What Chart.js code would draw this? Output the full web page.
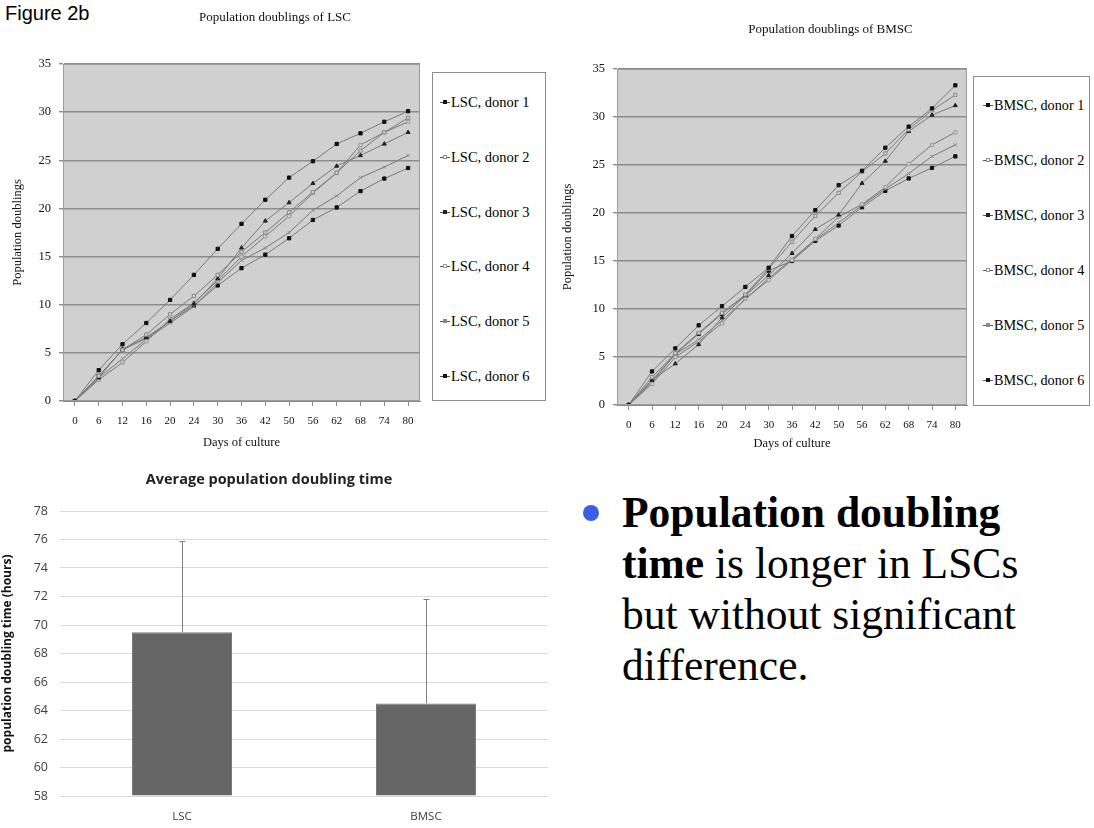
<!DOCTYPE html>
<html>
<head>
<meta charset="utf-8">
<script src="https://cdn.jsdelivr.net/npm/chart.js@4.4.1/dist/chart.umd.min.js"></script>
<style>
  html, body { margin: 0; padding: 0; background: #fff; }
  #page { position: relative; width: 1094px; height: 828px; overflow: hidden; background: #fff; }
  .abs { position: absolute; }
  canvas { display: block; }
  #figLabel { left: 5px; top: 2px; font: 20px "Liberation Sans", Arial, sans-serif; color: #000; }
  .legend { position: absolute; border: 1px solid #8c8c8c; background: #fff; box-sizing: border-box;
            font: 14.5px "Liberation Serif", "Times New Roman", serif; color: #000; }
  .legend .item { position: absolute; white-space: nowrap; line-height: 16px; height: 16px; }
  .legend .mk { display: inline-block; position: relative; width: 10px; height: 16px; vertical-align: top; margin-right: 1px; }
  .legend .mk::before { content: ""; position: absolute; left: 0; top: 8px; width: 10px; height: 1px; background: #555; }
  .legend .mk i { position: absolute; left: 3px; top: 6px; width: 4px; height: 4px; }
  #bmscLegend { font-size: 14.2px; }
  #bullet { left: 583px; top: 505px; width: 16px; height: 16px; border-radius: 50%; background: #3a5fe6; }
  #note { left: 622px; top: 487px; font: 43.5px "Liberation Serif", "Times New Roman", serif; line-height: 51px; color: #000; white-space: nowrap; }
</style>
</head>
<body>
<div id="page">
  <div id="figLabel" class="abs">Figure 2b</div>

  <div class="abs" style="left:0px;top:0px;"><canvas id="lsc" width="550" height="460"></canvas></div>
  <div id="lscLegend" class="legend" style="left:432px;top:72px;width:114px;height:329px;"></div>

  <div class="abs" style="left:557px;top:0px;"><canvas id="bmsc" width="547" height="462"></canvas></div>
  <div id="bmscLegend" class="legend" style="left:973px;top:76px;width:117px;height:330px;"></div>

  <div class="abs" style="left:-10px;top:460px;"><canvas id="pdt" width="560" height="368"></canvas></div>

  <div id="bullet" class="abs"></div>
  <div id="note" class="abs"><b>Population doubling</b><br><b>time</b> is longer in LSCs<br>but without significant<br>difference.</div>
</div>

<script>
// Days of culture at which cumulative population doublings were counted
const days = ['0', '6', '12', '16', '20', '24', '30', '36', '42', '50', '56', '62', '68', '74', '80'];
const doublingTicks = [0, 5, 10, 15, 20, 25, 30, 35];

// Limbal stem cells (LSC), cumulative population doublings per donor
const lscNames = ['LSC, donor 1', 'LSC, donor 2', 'LSC, donor 3', 'LSC, donor 4', 'LSC, donor 5', 'LSC, donor 6'];
const lscDonor1 = [0, 3.2, 5.9, 8.1, 10.5, 13.1, 15.8, 18.4, 20.9, 23.2, 24.9, 26.7, 27.8, 29.0, 30.1];
const lscDonor2 = [0, 2.6, 5.3, 6.9, 9.0, 10.9, 13.1, 15.5, 17.5, 19.6, 21.7, 23.7, 26.0, 27.9, 29.4];
const lscDonor3 = [0, 2.4, 5.4, 6.6, 8.3, 10.1, 12.7, 15.9, 18.7, 20.6, 22.6, 24.4, 25.5, 26.7, 27.9];
const lscDonor4 = [0, 2.2, 4.0, 6.2, 8.5, 10.2, 12.5, 15.0, 17.1, 19.2, 21.6, 23.7, 26.6, 27.9, 29.0];
const lscDonor5 = [0, 2.4, 4.4, 6.4, 8.1, 9.8, 12.3, 14.6, 15.9, 17.5, 19.8, 21.3, 23.2, 24.3, 25.5];
const lscDonor6 = [0, 2.6, 5.3, 6.5, 8.3, 9.9, 12.0, 13.8, 15.2, 16.9, 18.8, 20.1, 21.8, 23.1, 24.2];

// Bone marrow stromal cells (BMSC), cumulative population doublings per donor
const bmscNames = ['BMSC, donor 1', 'BMSC, donor 2', 'BMSC, donor 3', 'BMSC, donor 4', 'BMSC, donor 5', 'BMSC, donor 6'];
const bmscDonor1 = [0, 3.5, 5.9, 8.3, 10.3, 12.3, 14.3, 17.6, 20.3, 22.9, 24.4, 26.8, 29.0, 30.9, 33.3];
const bmscDonor2 = [0, 2.9, 5.4, 7.5, 9.6, 11.5, 14.2, 17.0, 19.7, 22.1, 24.3, 26.2, 28.7, 30.7, 32.3];
const bmscDonor3 = [0, 2.6, 4.3, 6.3, 9.1, 11.4, 13.5, 15.8, 18.3, 19.8, 23.1, 25.4, 28.5, 30.2, 31.2];
const bmscDonor4 = [0, 2.2, 5.0, 6.6, 8.5, 11.1, 13.0, 15.1, 17.3, 19.6, 20.9, 22.7, 25.1, 27.1, 28.4];
const bmscDonor5 = [0, 2.4, 5.3, 6.8, 8.8, 11.0, 13.2, 15.2, 17.2, 19.0, 20.8, 22.5, 24.1, 25.9, 27.1];
const bmscDonor6 = [0, 2.6, 5.3, 7.4, 9.5, 11.4, 14.0, 15.0, 17.1, 18.7, 20.6, 22.3, 23.6, 24.7, 25.9];

// Average population doubling time (hours) with standard deviation
const cellTypes = ['LSC', 'BMSC'];
const meanDoublingTime = [69.5, 64.5];
const sdDoublingTime = [6.4, 7.3];
const hourTicks = [58, 60, 62, 64, 66, 68, 70, 72, 74, 76, 78];

// Marker look for the six donor lines
const markerStyles = [
  { style: 'rect', color: '#111' },
  { style: 'rect', color: '#8a8a8a', hollow: true },
  { style: 'triangle', color: '#222' },
  { style: 'rect', color: '#9a9a9a', hollow: true },
  { style: 'crossRot', color: '#8a8a8a' },
  { style: 'rect', color: '#111' }
];

const serif = '"Liberation Serif", "Times New Roman", serif';
const sans = '"Open Sans", Lato, sans-serif';

// Grey plot area with a thin frame, as in classic spreadsheet charts
const plotFrame = {
  id: 'plotFrame',
  beforeDraw(chart, args, opts) {
    if (!opts.fill) return;
    const { ctx, chartArea: a } = chart;
    ctx.save();
    ctx.fillStyle = opts.fill;
    ctx.fillRect(a.left, a.top, a.right - a.left, a.bottom - a.top);
    ctx.restore();
  },
  afterDraw(chart, args, opts) {
    if (!opts.stroke) return;
    const { ctx, chartArea: a } = chart;
    ctx.save();
    ctx.strokeStyle = opts.stroke;
    ctx.lineWidth = 1;
    ctx.strokeRect(Math.round(a.left) + 0.5, Math.round(a.top) + 0.5,
                   Math.round(a.right - a.left) - 1, Math.round(a.bottom - a.top) - 1);
    ctx.restore();
  }
};

// Upper standard-deviation whiskers on the bars
const errorBars = {
  id: 'errorBars',
  afterDatasetsDraw(chart, args, opts) {
    if (!opts.errors) return;
    const { ctx } = chart;
    const y = chart.scales.y;
    const meta = chart.getDatasetMeta(0);
    const values = chart.data.datasets[0].data;
    ctx.save();
    ctx.strokeStyle = opts.color || '#7f7f7f';
    ctx.lineWidth = 1;
    meta.data.forEach((bar, i) => {
      const x = Math.round(bar.x) + 0.5;
      const y0 = y.getPixelForValue(values[i]);
      const y1 = Math.round(y.getPixelForValue(values[i] + opts.errors[i])) + 0.5;
      ctx.beginPath();
      ctx.moveTo(x, y0);
      ctx.lineTo(x, y1);
      ctx.moveTo(x - 3, y1);
      ctx.lineTo(x + 3, y1);
      ctx.stroke();
    });
    ctx.restore();
  }
};

function donorDatasets(names, series) {
  return series.map((data, i) => {
    const m = markerStyles[i];
    return {
      label: names[i],
      data: data,
      borderColor: '#7a7a7a',
      borderWidth: 1,
      pointStyle: m.style,
      pointRadius: 2.3,
      pointBorderWidth: 1,
      pointBorderColor: m.color,
      pointBackgroundColor: m.hollow ? '#d0d0d0' : m.color,
      tension: 0,
      fill: false
    };
  });
}

function growthOptions(cfg) {
  return {
    responsive: false,
    animation: false,
    devicePixelRatio: 1,
    layout: { padding: 0 },
    plugins: {
      legend: { display: false },
      tooltip: { enabled: false },
      title: {
        display: true,
        text: cfg.title,
        color: '#111',
        font: { family: serif, size: 13, weight: 'normal', lineHeight: 1.2 },
        padding: { top: cfg.titleTop, bottom: cfg.titleBottom }
      },
      plotFrame: { fill: '#d0d0d0', stroke: '#9c9c9c' }
    },
    scales: {
      x: {
        type: 'category',
        offset: true,
        grid: { drawOnChartArea: false, drawTicks: true, tickLength: 5, color: '#8a8a8a' },
        border: { display: true, color: '#8a8a8a' },
        ticks: { color: '#111', font: { family: serif, size: 11 }, padding: 9, maxRotation: 0, autoSkip: false },
        title: { display: true, text: 'Days of culture', color: '#111',
                 font: { family: serif, size: 12.5 }, padding: { top: 0, bottom: cfg.xTitleBottom } },
        afterFit(scale) { scale.height = cfg.xHeight; }
      },
      y: {
        min: 0,
        max: 35,
        afterBuildTicks(scale) { scale.ticks = doublingTicks.map(v => ({ value: v })); },
        grid: { color: '#8c8c8c', lineWidth: 1.4, drawTicks: true, tickLength: 4 },
        border: { display: true, color: '#8c8c8c' },
        ticks: { color: '#111', font: { family: serif, size: 12.5 }, padding: 8 },
        title: { display: true, text: 'Population doublings', color: '#111',
                 font: { family: serif, size: 12.5 }, padding: { top: cfg.yTitleTop, bottom: 0 } },
        afterFit(scale) { scale.width = cfg.yWidth; }
      },
      // empty right-hand band that keeps room for the donor legend
      legendBand: {
        type: 'linear',
        position: 'right',
        display: true,
        grid: { display: false },
        border: { display: false },
        ticks: { display: false },
        afterFit(scale) { scale.width = cfg.legendBand; }
      }
    }
  };
}

new Chart(document.getElementById('lsc'), {
  type: 'line',
  data: {
    labels: days,
    datasets: donorDatasets(lscNames, [lscDonor1, lscDonor2, lscDonor3, lscDonor4, lscDonor5, lscDonor6])
  },
  options: growthOptions({
    title: 'Population doublings of LSC',
    legendBand: 130, titleTop: 10, titleBottom: 38.4,
    xHeight: 59, xTitleBottom: 9.5, yWidth: 63, yTitleTop: 10
  }),
  plugins: [plotFrame]
});

new Chart(document.getElementById('bmsc'), {
  type: 'line',
  data: {
    labels: days,
    datasets: donorDatasets(bmscNames, [bmscDonor1, bmscDonor2, bmscDonor3, bmscDonor4, bmscDonor5, bmscDonor6])
  },
  options: growthOptions({
    title: 'Population doublings of BMSC',
    legendBand: 137, titleTop: 21.6, titleBottom: 31.8,
    xHeight: 57, xTitleBottom: 10.5, yWidth: 60, yTitleTop: 3
  }),
  plugins: [plotFrame]
});

new Chart(document.getElementById('pdt'), {
  type: 'bar',
  data: {
    labels: cellTypes,
    datasets: [{
      data: meanDoublingTime,
      base: 58,
      backgroundColor: '#666666',
      borderColor: '#7a7a7a',
      borderWidth: 1,
      barPercentage: 0.41,
      categoryPercentage: 1
    }]
  },
  options: {
    responsive: false,
    animation: false,
    devicePixelRatio: 1,
    layout: { padding: { left: 0, right: 2, top: 0, bottom: 0 } },
    plugins: {
      legend: { display: false },
      tooltip: { enabled: false },
      title: {
        display: true,
        text: 'Average population doubling time',
        color: '#222',
        font: { family: sans, size: 14.5, weight: 'bold', lineHeight: 1.2 },
        padding: { top: 11.3, bottom: 22.3 }
      },
      errorBars: { errors: sdDoublingTime, color: '#7f7f7f' }
    },
    scales: {
      x: {
        grid: { display: false },
        border: { display: false },
        ticks: { color: '#404040', font: { family: sans, size: 11.5 }, padding: 6 },
        afterFit(scale) { scale.height = 32; }
      },
      y: {
        min: 58,
        max: 78,
        afterBuildTicks(scale) { scale.ticks = hourTicks.map(v => ({ value: v })); },
        grid: { color: '#d9d9d9', lineWidth: 1, drawTicks: false },
        border: { display: false },
        ticks: { color: '#404040', font: { family: sans, size: 12.5 }, padding: 12 },
        title: { display: true, text: 'population doubling time (hours)', color: '#111',
                 font: { family: sans, size: 12, weight: 'bold' },
                 padding: { top: 10, bottom: 0 } },
        afterFit(scale) { scale.width = 70; }
      }
    }
  },
  plugins: [errorBars]
});

// Legends listing the donors beside each growth chart
function buildLegend(id, names, firstY, step, left) {
  const box = document.getElementById(id);
  names.forEach((name, i) => {
    const m = markerStyles[i];
    const item = document.createElement('div');
    item.className = 'item';
    item.style.left = left + 'px';
    item.style.top = (firstY + i * step - 8) + 'px';
    const mk = document.createElement('span');
    mk.className = 'mk';
    const dot = document.createElement('i');
    dot.style.background = m.hollow ? '#fff' : m.color;
    dot.style.border = m.hollow ? '1px solid ' + m.color : 'none';
    dot.style.boxSizing = 'border-box';
    mk.appendChild(dot);
    item.appendChild(mk);
    item.appendChild(document.createTextNode(name));
    box.appendChild(item);
  });
}
buildLegend('lscLegend', lscNames, 29, 54.8, 7);
buildLegend('bmscLegend', bmscNames, 28, 55, 9);
</script>
</body>
</html>
